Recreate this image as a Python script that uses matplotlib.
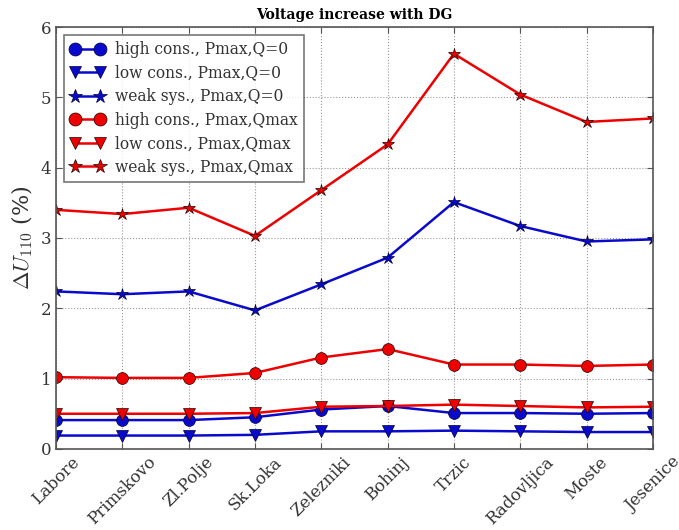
from matplotlib import pyplot as plt
import numpy as np

## DATA
towns = ['Labore', 'Primskovo', 'Zl.Polje', 'Sk.Loka', 'Zelezniki',
         'Bohinj', 'Trzic', 'Radovljica', 'Moste', 'Jesenice']

high_q0 = [0.41, 0.41, 0.41, 0.45, 0.56, 0.61, 0.51, 0.51, 0.50, 0.51]
low_q0 = [0.19, 0.19, 0.19, 0.20, 0.25, 0.25, 0.26, 0.25, 0.24, 0.24]
weak_q0 = [2.24, 2.20, 2.24, 1.97, 2.34, 2.72, 3.51, 3.17, 2.95, 2.98]
high_qmax = [1.02, 1.01, 1.01, 1.08, 1.30, 1.42, 1.20, 1.20, 1.18, 1.20]
low_qmax = [0.50, 0.50, 0.50, 0.51, 0.60, 0.61, 0.63, 0.61, 0.59, 0.60]
weak_qmax = [3.40, 3.34, 3.43, 3.03, 3.68, 4.33, 5.62, 5.04, 4.65, 4.70]

## STYLE
plt.rcParams['font.family'] = 'DejaVu Serif'
plt.rcParams['mathtext.fontset'] = 'cm'
txt = '#333333'

fig = plt.figure(figsize=(6.79, 5.30), dpi=100)
ax = fig.add_axes([0.0825, 0.153, 0.879, 0.796])
x = np.arange(len(towns))

blue = '#0a0acc'
red = '#ee0000'
series = [
    (high_q0, 'o', blue, 'high cons., Pmax,Q=0', 8.5),
    (low_q0, 'v', blue, 'low cons., Pmax,Q=0', 8.5),
    (weak_q0, '*', blue, 'weak sys., Pmax,Q=0', 9),
    (high_qmax, 'o', red, 'high cons., Pmax,Qmax', 8.5),
    (low_qmax, 'v', red, 'low cons., Pmax,Qmax', 8.5),
    (weak_qmax, '*', red, 'weak sys., Pmax,Qmax', 9),
]
for vals, mk, col, lab, ms in series:
    ax.plot(x, vals, marker=mk, color=col, lw=1.8, ms=ms,
            markeredgecolor='#220000' if col == red else '#000033',
            markeredgewidth=0.5, label=lab)

ax.set_xlim(0, len(towns) - 1)
ax.set_ylim(0, 6)
ax.set_xticks(x)
ax.set_xticklabels(towns, rotation=45, fontsize=12, color=txt)
ax.tick_params(axis='y', labelsize=12, labelcolor=txt)
ax.tick_params(direction='in', length=4, color='#555555', top=True, right=True)
ax.grid(True, ls=':', color='#999999', lw=0.8)
for sp in ax.spines.values():
    sp.set_color('#555555')
    sp.set_linewidth(1.2)

ax.set_ylabel(r'$\Delta U_{110}$ (%)', fontsize=16, color=txt)
ax.set_title('Voltage increase with DG', fontsize=10, fontweight='bold')

leg = ax.legend(loc='upper left', numpoints=2, fontsize=11.2, fancybox=False,
                handlelength=2.2, borderpad=0.4, labelspacing=0.42,
                handletextpad=0.7, markerscale=1.1)
leg.get_frame().set_edgecolor('#555555')
leg.get_frame().set_linewidth(1.2)
for t in leg.get_texts():
    t.set_color(txt)

plt.savefig('out.png', dpi=100)
